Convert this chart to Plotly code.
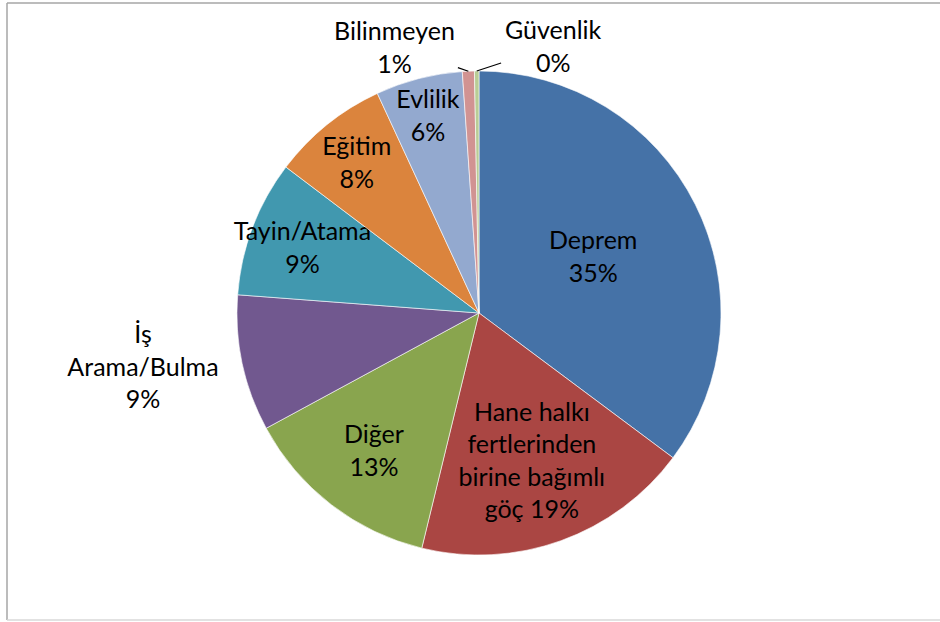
import math
import plotly.graph_objects as go

categories = ["Deprem", "Hane halkı fertlerinden birine bağımlı göç", "Diğer",
              "İş Arama/Bulma", "Tayin/Atama", "Eğitim", "Evlilik",
              "Bilinmeyen", "Güvenlik"]
display_labels = ["Deprem", "Hane halkı<br>fertlerinden<br>birine bağımlı<br>göç", "Diğer",
                  "İş<br>Arama/Bulma", "Tayin/Atama", "Eğitim", "Evlilik",
                  "Bilinmeyen", "Güvenlik"]
values = [35.2, 18.6, 13.3, 9.1, 9.1, 7.8, 5.8, 0.8, 0.3]
colors = ["#4572A7", "#AA4643", "#89A54E", "#71588F", "#4198AF",
          "#DB843D", "#93A9CF", "#D19392", "#B9CD96"]
positions = ["inside", "inside", "inside", "outside", "inside",
             "inside", "inside", "none", "none"]
templates = ["%{text}<br>%{percent:.0%}"] * 9
templates[1] = "%{text} %{percent:.0%}"

# label boxes (pixel centres) for the small slices with leader lines
callout_pos = {7: (394, 46), 8: (553, 46)}

W, H = 940, 622
cx, cy, r = 479, 313, 242
FONT = dict(family="Lato, Open Sans, sans-serif", size=25, color="#000000")

fig = go.Figure(go.Pie(
    labels=categories,
    values=values,
    text=display_labels,
    texttemplate=templates,
    textposition=positions,
    insidetextorientation="horizontal",
    sort=False,
    direction="clockwise",
    rotation=0,
    automargin=False,
    marker=dict(colors=colors, line=dict(color="#ffffff", width=0.6)),
    textfont=FONT,
    insidetextfont=FONT,
    outsidetextfont=FONT,
    showlegend=False,
    hoverinfo="label+percent",
    domain=dict(x=[(cx - r) / W, (cx + r) / W],
                y=[(H - cy - r) / H, (H - cy + r) / H]),
))

total = sum(values)
annotations = []
cum = 0.0
for i, v in enumerate(values):
    mid = cum + v / 2
    cum += v
    if i not in callout_pos:
        continue
    theta = 2 * math.pi * mid / total
    px = cx + r * math.sin(theta)
    py = cy - r * math.cos(theta)
    tx, ty = callout_pos[i]
    pct = round(100 * v / total)
    annotations.append(dict(
        x=px / W, y=1 - py / H, xref="paper", yref="paper",
        ax=tx - px, ay=ty - py, axref="pixel", ayref="pixel",
        text=f"{display_labels[i]}<br>{pct}%",
        showarrow=True, arrowhead=0, arrowwidth=1.2, arrowcolor="#000000",
        standoff=0, startstandoff=2,
        font=FONT, align="center",
    ))

fig.update_layout(
    width=W, height=H,
    margin=dict(l=0, r=0, t=0, b=0, pad=0, autoexpand=False),
    paper_bgcolor="#ffffff",
    uniformtext=dict(minsize=25, mode="show"),
    annotations=annotations,
    shapes=[
        dict(type="line", xref="paper", yref="paper", x0=7 / W, x1=7 / W,
             y0=1 - 3 / H, y1=1 - 620 / H, line=dict(color="#a6a6a6", width=1.5)),
        dict(type="line", xref="paper", yref="paper", x0=7 / W, x1=1,
             y0=1 - 3 / H, y1=1 - 3 / H, line=dict(color="#a6a6a6", width=1.5)),
        dict(type="line", xref="paper", yref="paper", x0=7 / W, x1=1,
             y0=1 - 620 / H, y1=1 - 620 / H, line=dict(color="#d9d9d9", width=1.5)),
    ],
)

fig.write_html("out.html", config={"displayModeBar": False},
               post_script="document.body.style.margin='0px';")
